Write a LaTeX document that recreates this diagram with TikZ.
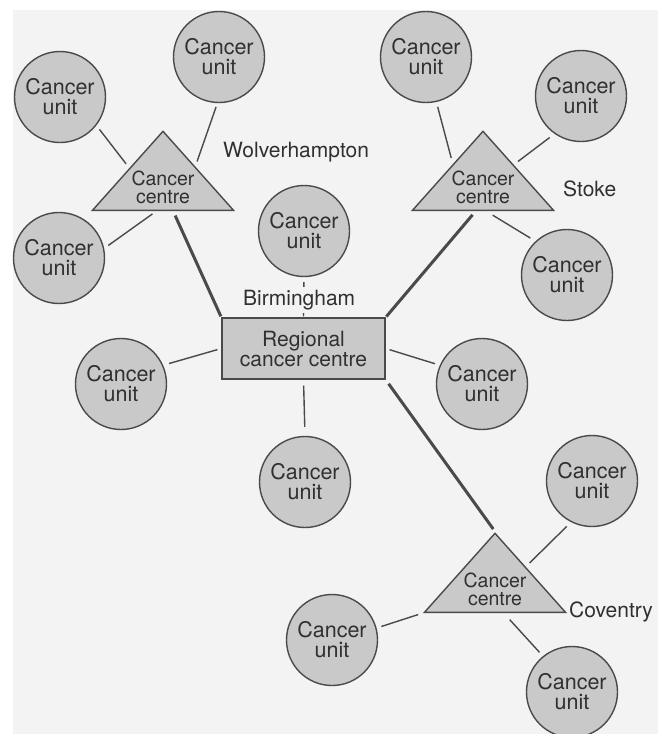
\documentclass[tikz,border=0pt]{standalone}
\usepackage{fontspec}
\setmainfont{TeX Gyre Heros}
\usetikzlibrary{shapes.geometric,positioning,calc}
\definecolor{paper}{HTML}{F3F3F3}
\definecolor{shade}{HTML}{C9C9C9}
\definecolor{ink}{HTML}{4A4A4A}
\definecolor{textgrey}{HTML}{303030}

\begin{document}
\begin{tikzpicture}[x=1pt,y=-1pt]
    \tikzstyle{unit}=[circle, draw=ink, fill=shade, line width=1.4pt, minimum size=91pt, inner sep=0pt, align=center, text=textgrey, font=\fontsize{21.5}{20}\selectfont]
    \tikzstyle{centre}=[isosceles triangle, shape border rotate=90, isosceles triangle stretches, minimum width=141pt, minimum height=79pt, inner sep=0pt, draw=ink, fill=shade, line width=1.4pt, anchor=lower side]
    \tikzstyle{centretext}=[align=center, text=textgrey, inner sep=0pt, font=\fontsize{19.5}{18.5}\selectfont]
    \tikzstyle{regbox}=[rectangle, draw=ink, fill=shade, line width=1.4pt, minimum width=163pt, minimum height=61pt, inner sep=0pt, align=center, text=textgrey, font=\fontsize{21}{20}\selectfont]
    \tikzstyle{place}=[anchor=base west, inner sep=0pt, text=textgrey, font=\fontsize{21}{24}\selectfont]
    \tikzstyle{link}=[draw=ink, line width=1.4pt]
    \tikzstyle{trunk}=[draw=ink, line width=3pt]

    \useasboundingbox (0,0) rectangle (658,734);
    \fill[white] (0,0) rectangle (658,734);
    \fill[paper] (13,10) rectangle (658,734);

    \node[centre] (wolv) at (163,211) {};
    \node[centretext, above=7pt of wolv.lower side] (wolvtext) {Cancer\\centre};
    \node[centre] (stoke) at (483,211) {};
    \node[centretext, above=7pt of stoke.lower side] (stoketext) {Cancer\\centre};
    \node[centre] (cov) at (495,613) {};
    \node[centretext, above=7pt of cov.lower side] (covtext) {Cancer\\centre};
    \node[regbox] (regional) at (303.5,348.5) {Regional\\cancer centre};

    \node[unit] (wunit1) at (60,97) {Cancer\\unit};
    \node[unit] (wunit2) at (219,57) {Cancer\\unit};
    \node[unit] (wunit3) at (59,258) {Cancer\\unit};
    \node[unit] (sunit1) at (426,57) {Cancer\\unit};
    \node[unit] (sunit2) at (581,96) {Cancer\\unit};
    \node[unit] (sunit3) at (567,275) {Cancer\\unit};
    \node[unit] (bunit1) at (304,231) {Cancer\\unit};
    \node[unit] (bunit2) at (121,384) {Cancer\\unit};
    \node[unit] (bunit3) at (482,384) {Cancer\\unit};
    \node[unit] (bunit4) at (305,482) {Cancer\\unit};
    \node[unit] (cunit1) at (592,481) {Cancer\\unit};
    \node[unit] (cunit2) at (332,640) {Cancer\\unit};
    \node[unit] (cunit3) at (572,692) {Cancer\\unit};

    \draw[link, shorten <=5pt, shorten >=5pt] (wunit1.-38) -- ($(wolv.apex)!0.47!(wolv.left corner)$);
    \draw[link, shorten <=4pt, shorten >=5pt] (wunit2.-92) -- ($(wolv.apex)!0.45!(wolv.right corner)$);
    \draw[link, shorten <=5pt, shorten >=5pt] (wunit3.12) -- ($(wolv.left corner)!0.455!(wolv.right corner)$);
    \draw[trunk, shorten <=5pt, shorten >=1pt] ($(wolv.left corner)!0.57!(wolv.right corner)$) -- (regional.north west);

    \draw[link, shorten <=5pt, shorten >=6pt] (sunit1.-77) -- ($(stoke.apex)!0.42!(stoke.left corner)$);
    \draw[link, shorten <=6pt, shorten >=5pt] (sunit2.-125) -- ($(stoke.apex)!0.43!(stoke.right corner)$);
    \draw[link, shorten <=6pt, shorten >=8pt] (sunit3.133) -- ($(stoke.left corner)!0.52!(stoke.right corner)$);
    \draw[trunk, shorten <=5pt, shorten >=1pt] ($(stoke.left corner)!0.45!(stoke.right corner)$) -- (regional.north east);

    \draw[link, shorten <=5pt, shorten >=1pt] (bunit1.south) -- (regional.north);
    \draw[link, shorten <=6pt, shorten >=4pt] (bunit2.24) -- (regional.west);
    \draw[link, shorten <=4pt, shorten >=5pt] (regional.east) -- (bunit3.156);
    \draw[link, shorten <=6pt, shorten >=9pt] (regional.south) -- (bunit4.north);
    \draw[trunk, shorten <=5pt, shorten >=3pt] (regional.south east) -- (cov.apex);

    \draw[link, shorten <=6pt, shorten >=5pt] (cunit1.-117) -- ($(cov.apex)!0.43!(cov.right corner)$);
    \draw[link, shorten <=5pt, shorten >=5pt] (cunit2.15) -- (cov.left corner);
    \draw[link, shorten <=5pt, shorten >=9pt] (cunit3.129) -- ($(cov.left corner)!0.56!(cov.right corner)$);

    \node[place] (wolvname) at (223,157) {Wolverhampton};
    \node[place] (stokename) at (563,196) {Stoke};
    \node[place, fill=paper, inner ysep=3pt] (birmname) at (243,305) {Birmingham};
    \node[place] (covname) at (569,617) {Coventry};
\end{tikzpicture}
\end{document}
